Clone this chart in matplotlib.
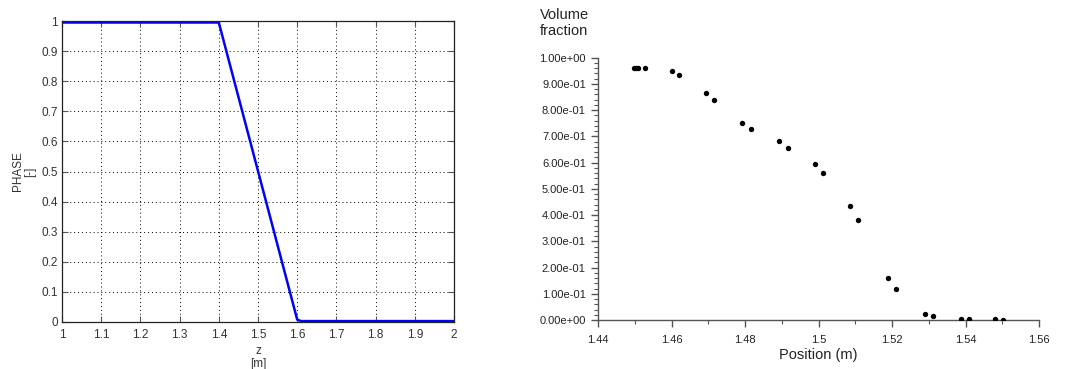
import matplotlib
matplotlib.use("Agg")
import matplotlib.pyplot as plt
from matplotlib.ticker import MultipleLocator, FuncFormatter

plt.rcParams['font.family'] = ['Liberation Sans', 'DejaVu Sans']

# Left chart: PHASE profile
z_vals = [1.0, 1.4, 1.6, 1.61, 2.0]
phase_vals = [0.995, 0.995, 0.008, 0.003, 0.003]
left_xticks = [1, 1.1, 1.2, 1.3, 1.4, 1.5, 1.6, 1.7, 1.8, 1.9, 2]
left_yticks = [0, 0.1, 0.2, 0.3, 0.4, 0.5, 0.6, 0.7, 0.8, 0.9, 1]

# Right chart: Volume fraction vs position
pos_vals = [1.4498, 1.4504, 1.4509, 1.4526, 1.4602, 1.4621, 1.4692, 1.4716,
            1.4792, 1.4816, 1.4891, 1.4916, 1.4989, 1.5013, 1.5086, 1.5108,
            1.5189, 1.5211, 1.5289, 1.5312, 1.5388, 1.5409, 1.5481, 1.5502]
vf_vals = [0.959, 0.959, 0.959, 0.959, 0.950, 0.933, 0.867, 0.840,
           0.750, 0.729, 0.681, 0.657, 0.595, 0.562, 0.433, 0.382,
           0.159, 0.117, 0.022, 0.014, 0.004, 0.004, 0.004, 0.001]
right_xticks = [1.44, 1.46, 1.48, 1.5, 1.52, 1.54, 1.56]
right_yticks = [0.0, 0.1, 0.2, 0.3, 0.4, 0.5, 0.6, 0.7, 0.8, 0.9, 1.0]

fig = plt.figure(figsize=(10.7, 3.69), dpi=100)

# ---------- Left ----------
ax1 = fig.add_axes([62/1070, 1-322/369, (454-62)/1070, (322-21)/369])
ax1.plot(z_vals, phase_vals, color='#0000ff', lw=1.8, solid_joinstyle='round')
ax1.set_xlim(1, 2)
ax1.set_ylim(0, 1)
ax1.set_xticks(left_xticks)
ax1.set_yticks(left_yticks)
ax1.set_xticklabels([f"{v:g}" for v in left_xticks])
ax1.set_yticklabels([f"{v:g}" for v in left_yticks])
ax1.grid(True, color='black', linestyle=(0, (1, 3)), lw=0.7)
ax1.tick_params(direction='in', top=True, right=True, length=4, width=0.8,
                color='#555555', labelsize=8.5, labelcolor='#333333', pad=3)
ax1.tick_params(axis='x', pad=5)
for s in ax1.spines.values():
    s.set_color('#222222')
    s.set_linewidth(0.9)
ax1.set_xlabel("z\n[m]", fontsize=8.5, color='#333333', labelpad=3, linespacing=1.05)
ax1.set_ylabel("PHASE\n[-]", fontsize=8.5, color='#333333', labelpad=4, linespacing=1.0)

# ---------- Right ----------
ax2 = fig.add_axes([598.3/1070, 1-320/369, (1039-598.3)/1070, (320-57.7)/369])
ax2.scatter(pos_vals, vf_vals, s=15, color='black', zorder=3, linewidths=0)
ax2.set_xlim(1.44, 1.56)
ax2.set_ylim(0, 1.0)
ax2.set_xticks(right_xticks)
ax2.set_yticks(right_yticks)
ax2.xaxis.set_minor_locator(MultipleLocator(0.01))
ax2.yaxis.set_minor_locator(MultipleLocator(0.02))
ax2.xaxis.set_major_formatter(FuncFormatter(lambda v, p: f"{v:g}"))
ax2.yaxis.set_major_formatter(FuncFormatter(lambda v, p: f"{v:.2e}"))
for side in ['top', 'right']:
    ax2.spines[side].set_visible(False)
for side in ['left', 'bottom']:
    ax2.spines[side].set_color('#555555')
    ax2.spines[side].set_linewidth(1.0)
ax2.tick_params(which='major', direction='out', length=5, width=1.0, color='#555555',
                labelsize=8, labelcolor='#222222', pad=4)
ax2.tick_params(which='minor', direction='out', length=3, width=0.8, color='#555555')
ax2.tick_params(axis='x', which='major', pad=6)
ax2.set_xlabel("Position (m)", fontsize=10.5, color='#222222', labelpad=2)
fig.text(540/1070, 1-23/369, "Volume\nfraction", fontsize=10.5, color='#222222',
         ha='left', va='center', linespacing=1.1)

fig.savefig("out.png", dpi=100)
